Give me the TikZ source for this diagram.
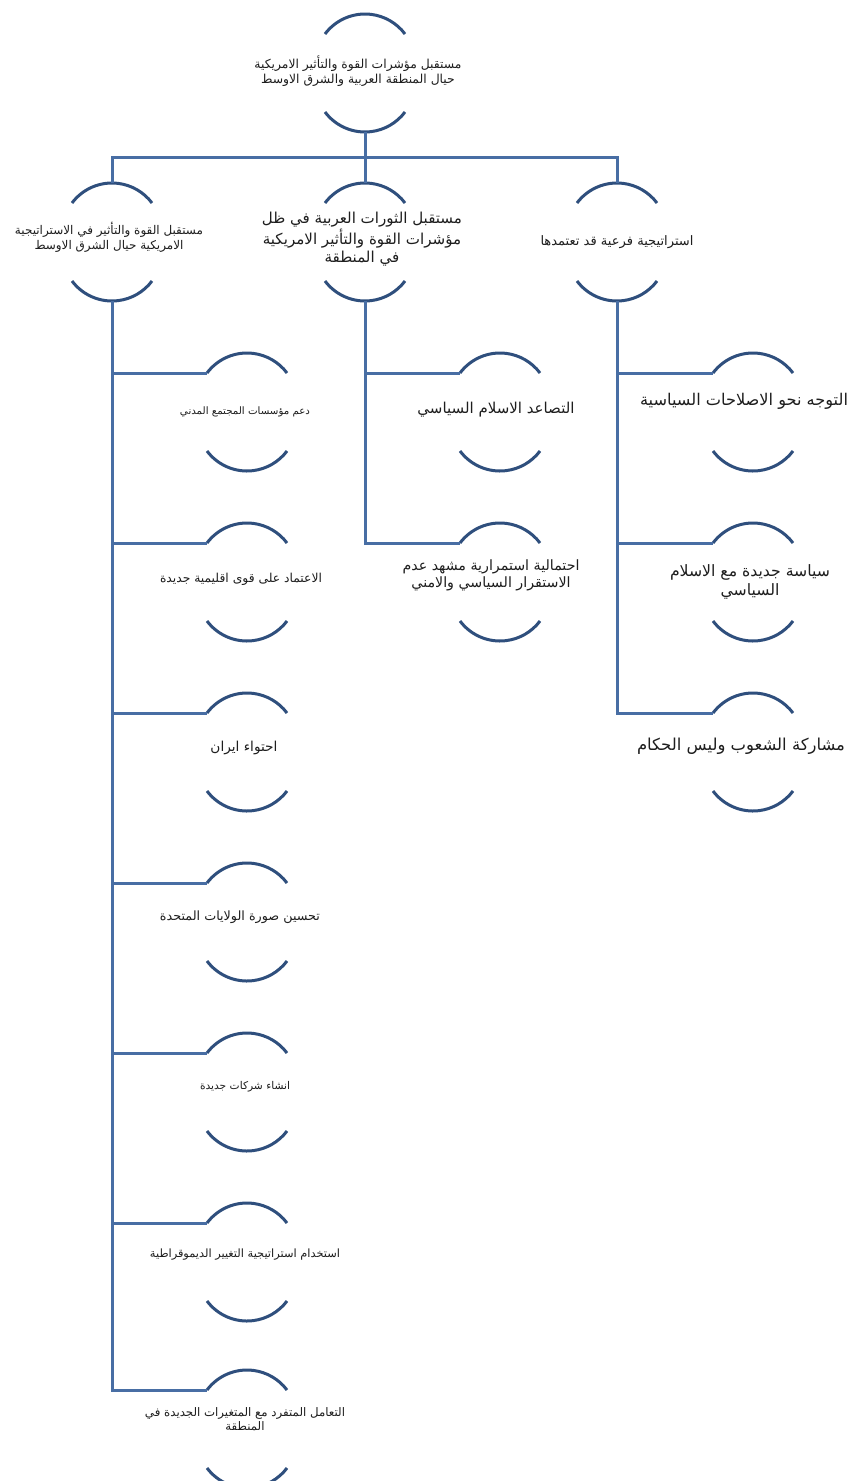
\documentclass[tikz,border=0pt]{standalone}
\usepackage{fontspec}
\usepackage{graphicx}
\newfontfamily\arabicfont[Script=Arabic]{DejaVu Sans}
\TeXXeTstate=1
\usetikzlibrary{calc}
\definecolor{linkc}{RGB}{72,110,164}
\definecolor{arcc}{RGB}{47,79,125}
\definecolor{txtc}{RGB}{30,30,30}
\newcommand{\AR}[1]{\beginR #1\endR}
\newcommand{\artxt}[2]{\resizebox{#1pt}{!}{\begin{tabular}{@{}c@{}}#2\end{tabular}}}
\tikzset{
  link/.style={draw=linkc, line width=3pt},
  arcline/.style={draw=arcc, line width=3pt},
  lbl/.style={text=txtc, font=\arabicfont, inner sep=0pt}
}
\newcommand{\hnode}[7]{%
  \coordinate (#1) at (#2,#3);
  \coordinate (#1-top) at (#2,#3-59);
  \coordinate (#1-bot) at (#2,#3+59);
  \coordinate (#1-in) at (#2-40,#3-39);
  \coordinate (#1-bl) at (#2-40,#3+39);
  \draw[arcline] (#1-in) arc[start angle=216.87, end angle=323.13, radius=50];
  \draw[arcline] (#1-bl) arc[start angle=143.13, end angle=36.87, radius=50];
  \node[lbl] (#1-t) at (#2+#4,#3+#5) {\artxt{#6}{#7}};
}
\begin{document}
\begin{tikzpicture}[x=1pt,y=-1pt]
\fill[white] (0,0) rectangle (851,1481);
\useasboundingbox (0,0) rectangle (851,1481);
% root
\hnode{root}{365}{73}{-7}{-1}{207}{\AR{مستقبل مؤشرات القوة والتأثير الامريكية}\\\AR{حيال المنطقة العربية والشرق الاوسط}}
% level 1
\hnode{A}{112}{242}{-3}{-4}{188}{\AR{مستقبل القوة والتأثير في الاستراتيجية}\\\AR{الامريكية حيال الشرق الاوسط}}
\hnode{B}{365}{242}{-3}{-3}{200}{\AR{مستقبل الثورات العربية في ظل}\\\AR{مؤشرات القوة والتأثير الامريكية}\\\AR{في المنطقة}}
\hnode{C}{617}{242}{0}{0}{153}{\AR{استراتيجية فرعية قد تعتمدها}}
% left children
\hnode{A1}{247}{412}{-2}{0}{130}{\AR{دعم مؤسسات المجتمع المدني}}
\hnode{A2}{247}{582}{-6}{-2}{162}{\AR{الاعتماد على قوى اقليمية جديدة}}
\hnode{A3}{247}{752}{-3}{-4}{67}{\AR{احتواء ايران}}
\hnode{A4}{247}{922}{-7}{-5}{160}{\AR{تحسين صورة الولايات المتحدة}}
\hnode{A5}{247}{1092}{-2}{-5}{90}{\AR{انشاء شركات جديدة}}
\hnode{A6}{247}{1262}{-2}{-7}{190}{\AR{استخدام استراتيجية التغيير الديموقراطية}}
\hnode{A7}{247}{1429}{-2}{-8}{200}{\AR{التعامل المتفرد مع المتغيرات الجديدة في}\\\AR{المنطقة}}
% middle children
\hnode{B1}{500}{412}{-4}{-2}{157}{\AR{التصاعد الاسلام السياسي}}
\hnode{B2}{500}{582}{-9}{-6}{177}{\AR{احتمالية استمرارية مشهد عدم}\\\AR{الاستقرار السياسي والامني}}
% right children
\hnode{C1}{753}{412}{-9}{-10}{208}{\AR{التوجه نحو الاصلاحات السياسية}}
\hnode{C2}{753}{582}{-3}{0}{160}{\AR{سياسة جديدة مع الاسلام}\\\AR{السياسي}}
\hnode{C3}{753}{752}{-12}{-5}{208}{\AR{مشاركة الشعوب وليس الحكام}}
% connectors
\coordinate (hub) at (365,157);
\draw[link] (root-bot) -- (hub);
\draw[link] (hub) -| (A-top);
\draw[link] (hub) -- (B-top);
\draw[link] (hub) -| (C-top);
\foreach \c in {A1,A2,A3,A4,A5,A6,A7} {\draw[link] (A-bot) |- (\c-in);}
\foreach \c in {B1,B2} {\draw[link] (B-bot) |- (\c-in);}
\foreach \c in {C1,C2,C3} {\draw[link] (C-bot) |- (\c-in);}
\end{tikzpicture}
\end{document}
